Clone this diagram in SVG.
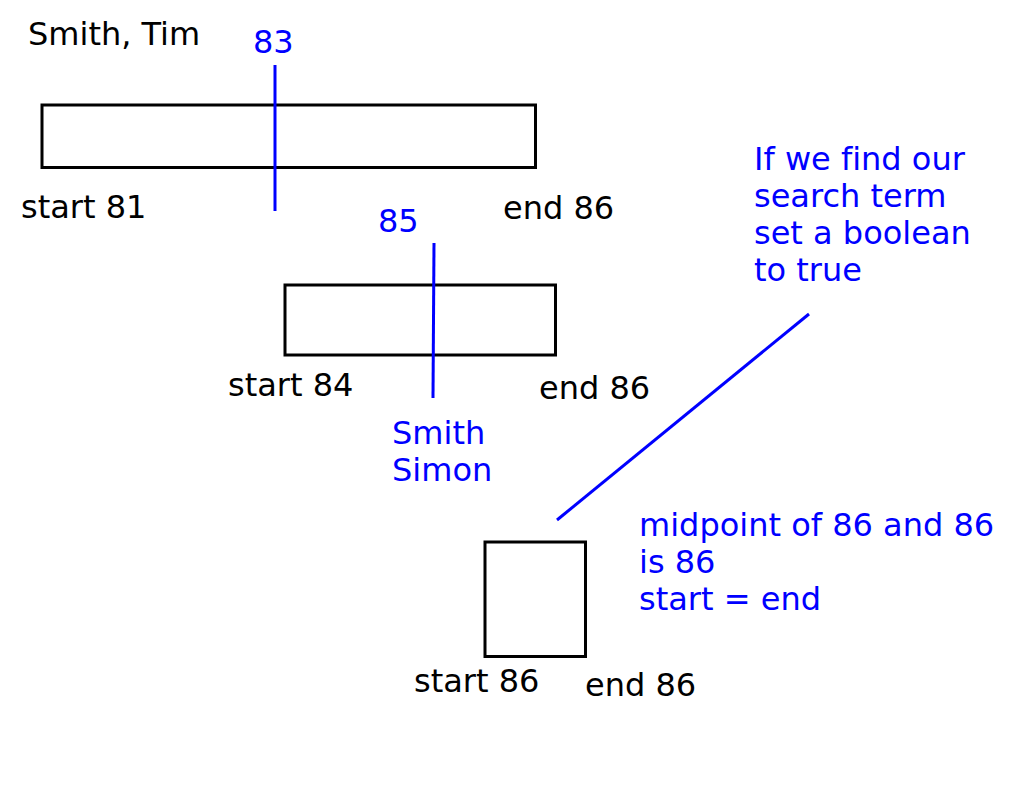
<svg xmlns="http://www.w3.org/2000/svg" width="1024" height="799" viewBox="0 0 1024 799">
<style>
text{font-family:"DejaVu Sans",sans-serif;font-size:32px;font-variant-ligatures:none}
.k{fill:#000}
.b{fill:#0000ff}
.box{fill:#fff;stroke:#000;stroke-width:3}
.ln{stroke:#0000ff;stroke-width:3;fill:none}
</style>
<rect width="1024" height="799" fill="#fff"/>
<text class="k" x="28" y="45">Smith, Tim</text>
<g id="box1">
<rect class="box" x="42" y="105" width="493.5" height="62.5"/>
<text class="k" x="21" y="218">start 81</text>
<text class="k" x="503" y="219">end 86</text>
</g>
<g id="box2">
<rect class="box" x="285" y="285" width="270.5" height="70"/>
<text class="k" x="228" y="396">start 84</text>
<text class="k" x="539" y="399">end 86</text>
</g>
<g id="box3">
<rect class="box" x="485" y="542" width="100.5" height="114.5"/>
<text class="k" x="414" y="692">start 86</text>
<text class="k" x="585" y="696">end 86</text>
</g>
<g id="labels">
<text class="b" x="253" y="53">83</text>
<text class="b" x="378" y="232">85</text>
<text class="b" x="392" y="444">Smith</text>
<text class="b" x="392" y="481">Simon</text>
<text class="b" x="754" y="170">If we find our</text>
<text class="b" x="754" y="207">search term</text>
<text class="b" x="754" y="244">set a boolean</text>
<text class="b" x="754" y="281">to true</text>
<text class="b" x="639" y="536">midpoint of 86 and 86</text>
<text class="b" x="639" y="573">is 86</text>
<text class="b" x="639" y="610">start = end</text>
</g>
<g id="connectors">
<line class="ln" x1="275" y1="65" x2="275" y2="211"/>
<line class="ln" x1="434" y1="243" x2="433" y2="398"/>
<line class="ln" x1="809" y1="314" x2="557" y2="520"/>
</g>
</svg>
